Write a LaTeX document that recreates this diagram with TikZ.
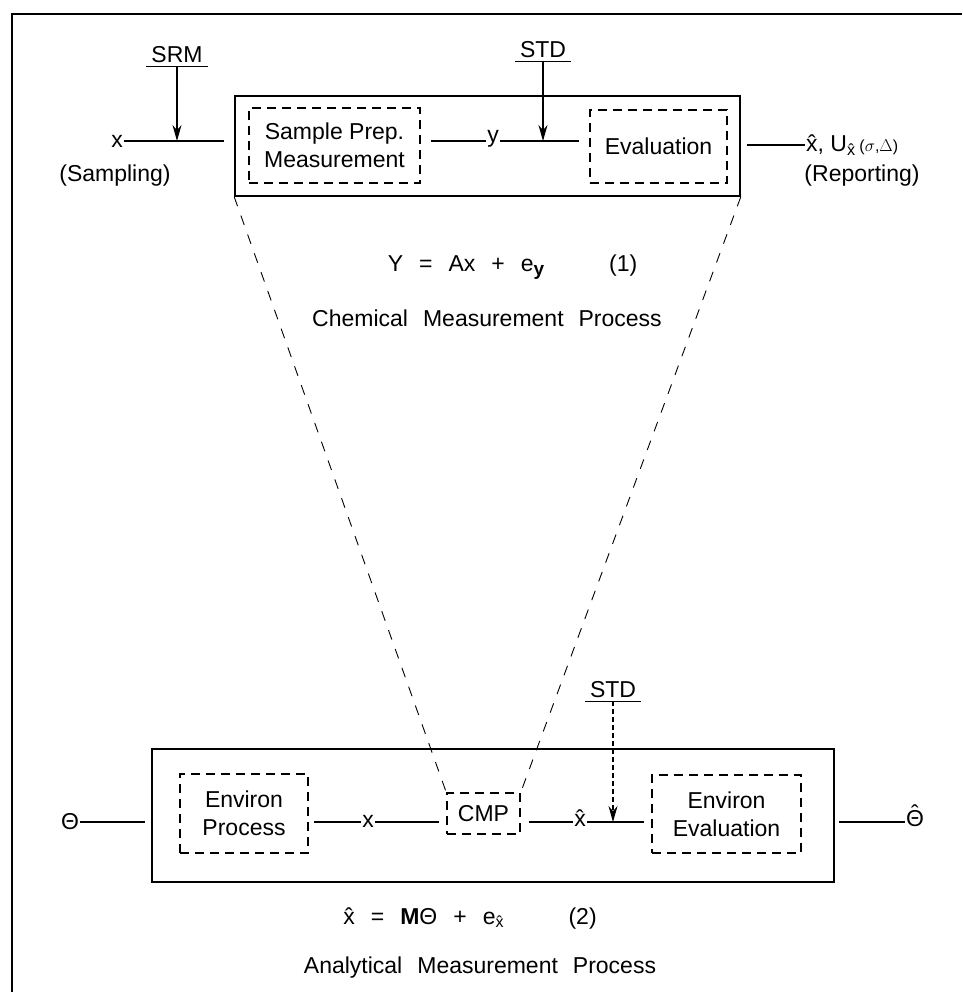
\documentclass[tikz,border=0pt]{standalone}
\usepackage{fontspec}
\setmainfont{Liberation Sans}
\usetikzlibrary{positioning,arrows.meta}

\begin{document}
\begin{tikzpicture}[x=1pt,y=-1pt,node distance=6pt]
    \tikzstyle{txt} = [inner sep=1pt, font=\fontsize{23}{28}\selectfont]
    \tikzstyle{frame} = [rectangle, draw, line width=1.6pt]
    \tikzstyle{dbox} = [rectangle, draw, line width=1.6pt, dash pattern=on 9pt off 6pt,
               align=center, inner sep=0pt, font=\fontsize{23}{28}\selectfont]
    \tikzstyle{line} = [draw, line width=1.2pt]
    \tikzstyle{arr} = [draw, line width=1.1pt, -{Stealth[length=16pt,width=9pt]}]
    \tikzstyle{refnode} = [txt, inner xsep=5pt, inner ysep=3pt]
    \tikzstyle{funnel} = [draw, line width=0.9pt, dash pattern=on 10pt off 10pt]

    \useasboundingbox (0,0) rectangle (962,992);
    % Define border
    \draw[line width=2.4pt] (12,992) -- (12,14) -- (962,14);

    % Define chemical measurement process
    \node[frame, minimum width=505, minimum height=100] (cmp) at (487.5,146) {};
    \node[dbox, minimum width=171, minimum height=75] (prep) at (334.5,145.5) {Sample Prep.\\Measurement};
    \node[dbox, minimum width=137, minimum height=73] (eval) at (658.5,146.5) {Evaluation};

    \node[txt] (xin) at (117,141) {x};
    \node[txt] (sampling) at (115,176) {(Sampling)};
    \node[txt] (ylab) at (493,139) {y};
    \node[txt, anchor=west] (xhat) at (805,145) {\^{x}, U\textsubscript{\^{x}}\,{\fontsize{16}{18}\selectfont($\sigma$,$\Delta$)}};
    \node[txt] (report) at (862,176) {(Reporting)};

    \node[refnode] (srm) at (177,55) {SRM};
    \node[refnode] (std1) at (543,50) {STD};

    \draw[line] (xin.east) -- ([xshift=-10pt]cmp.west |- xin);
    \draw[line] ([xshift=10pt]prep.east |- xin) -- (ylab.west |- xin);
    \draw[line] (ylab.east |- xin) -- ([xshift=-10pt]eval.west |- xin);
    \draw[line] ([xshift=6pt]cmp.east |- xhat) -- (xhat.west);

    \draw[line] (srm.south west) -- (srm.south east);
    \draw[line] (std1.south west) -- (std1.south east);
    \draw[arr] (srm.south) -- (srm.south |- xin);
    \draw[arr] (std1.south) -- (std1.south |- xin);

    \node[txt] (eq1) at (512.5,267) {Y\hspace{16pt}=\hspace{16pt}Ax\hspace{16pt}+\hspace{16pt}e\raisebox{-0.3ex}{\fontsize{19}{20}\selectfont\textbf{y}}\hspace{65pt}(1)};
    \node[txt] (cmptitle) at (487,318) {Chemical\hspace{15pt}Measurement\hspace{15pt}Process};

    % Define analytical measurement process
    \node[frame, minimum width=682, minimum height=133] (amp) at (493,815.5) {};
    \node[dbox, minimum width=128, minimum height=79] (envp) at (244,813.5) {Environ\\Process};
    \node[dbox, minimum width=73, minimum height=41] (cmpb) at (483.5,813.5) {CMP};
    \node[dbox, minimum width=149, minimum height=78] (enve) at (726.5,814) {Environ\\Evaluation};

    \node[txt] (theta) at (70,822) {Θ};
    \node[txt] (xmid) at (368,821) {x};
    \node[txt] (xhatb) at (580,818) {\^{x}};
    \node[txt] (thetahat) at (915,818) {\ooalign{Θ\cr\hidewidth\raisebox{0.2em}{ˆ}\hidewidth\cr}};
    \node[refnode] (std2) at (613,690) {STD};

    \draw[line] (theta.east) -- ([xshift=-6pt]amp.west |- theta);
    \draw[line] ([xshift=5pt]envp.east |- theta) -- (xmid.west |- theta);
    \draw[line] (xmid.east |- theta) -- ([xshift=-7pt]cmpb.west |- theta);
    \draw[line] ([xshift=8pt]cmpb.east |- theta) -- (xhatb.west |- theta);
    \draw[line] (xhatb.east |- theta) -- ([xshift=-7pt]enve.west |- theta);
    \draw[line] ([xshift=4pt]amp.east |- theta) -- (thetahat.west |- theta);

    \draw[line] (std2.south west) -- (std2.south east);
    \draw[arr, dash pattern=on 5pt off 3pt] (std2.south) -- (std2.south |- theta);

    % Define funnel
    \draw[funnel] (cmp.south west) -- (cmpb.north west);
    \draw[funnel] (cmp.south east) -- (cmpb.north east);

    \node[txt] (eq2) at (470,918) {\^{x}\hspace{16pt}=\hspace{16pt}\textbf{M}Θ\hspace{16pt}+\hspace{16pt}e\raisebox{-0.3ex}{\fontsize{16}{18}\selectfont\^{x}}\hspace{65pt}(2)};
    \node[txt] (amptitle) at (480,968) {Analytical\hspace{15pt}Measurement\hspace{15pt}Process};
  \end{tikzpicture}
\end{document}
